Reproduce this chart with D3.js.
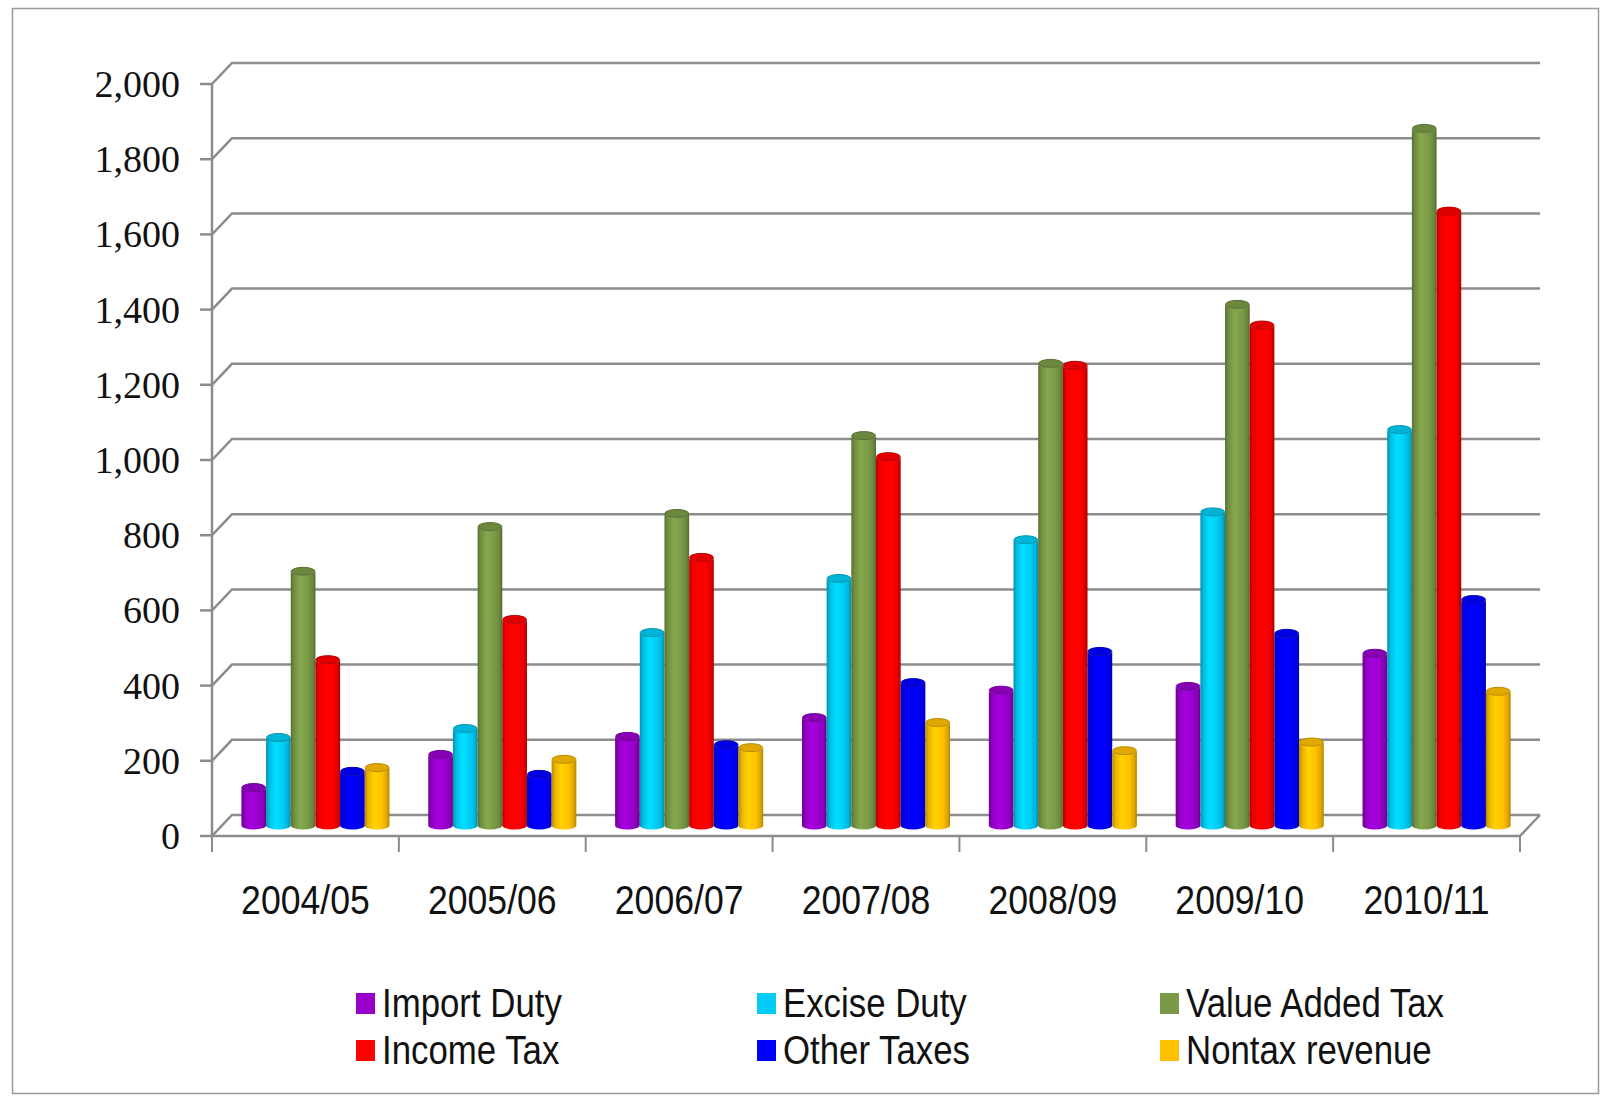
<!DOCTYPE html>
<html>
<head>
<meta charset="utf-8">
<script src="https://cdn.jsdelivr.net/npm/d3@7"></script>
<style>
	body { margin: 0; background: #ffffff; }
	svg { display: block; }
</style>
</head>
<body>
<svg id="chart" width="1610" height="1098"></svg>
<script>

var years = ["2004/05", "2005/06", "2006/07", "2007/08", "2008/09", "2009/10", "2010/11"];

var seriesNames = ["Import Duty", "Excise Duty", "Value Added Tax", "Income Tax", "Other Taxes", "Nontax revenue"];
var seriesColors = ["#9900cc", "#00ccf5", "#7a9a46", "#ff0000", "#0000ff", "#ffc000"];

var importDuty = [101, 189, 237, 287, 360, 370, 458];
var exciseDuty = [234, 258, 513, 657, 760, 834, 1053];
var valueAddedTax = [676, 795, 830, 1037, 1229, 1386, 1854];
var incomeTax = [441, 548, 713, 981, 1224, 1331, 1634];
var otherTaxes = [144, 136, 215, 380, 463, 511, 601];
var nontaxRevenue = [154, 176, 207, 274, 199, 222, 357];

var yTicks = [0, 200, 400, 600, 800, 1000, 1200, 1400, 1600, 1800, 2000];

var seriesValues = [importDuty, exciseDuty, valueAddedTax, incomeTax, otherTaxes, nontaxRevenue];

function renderCylinders(element) {

	var svg = d3.select(element);

	var plotLeft = 212;
	var plotRight = 1520;
	var depthX = 20; //how far the back wall sits from the front axis
	var depthY = -21;
	var groupPad = 19.4;
	var capRy = 4;
	var lineColor = "#8c8c8c";
	var sansFont = "'Liberation Sans Narrow', 'Liberation Sans', Arial, sans-serif";

	var yFront = d3.scaleLinear()
		.domain([0, 2000])
		.range([836, 84]);

	var x0 = d3.scaleBand()
		.domain(years)
		.range([plotLeft, plotRight]);

	var x1 = d3.scaleBand()
		.domain(seriesNames)
		.range([groupPad, x0.bandwidth() - groupPad]);

	var colorScale = d3.scaleOrdinal()
		.domain(seriesNames)
		.range(seriesColors);

	//squeeze sans text so it reads like the narrow office font
	function condense(factor) {
		return function() {
			var len = this.getComputedTextLength();
			d3.select(this)
				.attr("textLength", len * factor)
				.attr("lengthAdjust", "spacingAndGlyphs");
		};
	}

	function addFrame() {

		svg.append("rect")
			.attr("x", 12.5)
			.attr("y", 8.5)
			.attr("width", 1586)
			.attr("height", 1085)
			.attr("fill", "#ffffff")
			.attr("stroke", "#9a9a9a")
			.attr("stroke-width", 1.5);

	}

	function addWalls() {

		//gridlines run along the side wall then the back wall
		svg.append("g")
			.selectAll("path")
			.data(yTicks)
			.enter()
			.append("path")
			.attr("d", v => "M" + plotLeft + "," + yFront(v)
				+ "L" + (plotLeft + depthX) + "," + (yFront(v) + depthY)
				+ "L" + (plotRight + depthX) + "," + (yFront(v) + depthY))
			.attr("fill", "none")
			.attr("stroke", lineColor)
			.attr("stroke-width", 2.5);

		//floor front edge and right side
		svg.append("path")
			.attr("d", "M" + plotLeft + "," + yFront(0)
				+ "L" + plotRight + "," + yFront(0)
				+ "L" + (plotRight + depthX) + "," + (yFront(0) + depthY))
			.attr("fill", "none")
			.attr("stroke", lineColor)
			.attr("stroke-width", 2.5);

	}

	function addAxes() {

		svg.append("line")
			.attr("x1", plotLeft)
			.attr("y1", yFront(0))
			.attr("x2", plotLeft)
			.attr("y2", yFront(2000))
			.attr("stroke", lineColor)
			.attr("stroke-width", 2.5);

		var yAxis = svg.append("g");

		yAxis.selectAll("line")
			.data(yTicks)
			.enter()
			.append("line")
			.attr("x1", plotLeft - 12)
			.attr("x2", plotLeft)
			.attr("y1", v => yFront(v))
			.attr("y2", v => yFront(v))
			.attr("stroke", lineColor)
			.attr("stroke-width", 2.5);

		yAxis.selectAll("text")
			.data(yTicks)
			.enter()
			.append("text")
			.attr("x", 180)
			.attr("y", v => yFront(v))
			.attr("text-anchor", "end")
			.attr("dominant-baseline", "central")
			.attr("font-family", "'Liberation Serif', 'DejaVu Serif', serif")
			.attr("font-size", "38px")
			.attr("fill", "#111111")
			.text(d3.format(","));

		var boundaries = years.map(d => x0(d)).concat([plotRight]);

		svg.append("g")
			.selectAll("line")
			.data(boundaries)
			.enter()
			.append("line")
			.attr("x1", d => d)
			.attr("x2", d => d)
			.attr("y1", yFront(0))
			.attr("y2", yFront(0) + 16)
			.attr("stroke", lineColor)
			.attr("stroke-width", 2);

		svg.append("g")
			.selectAll("text")
			.data(years)
			.enter()
			.append("text")
			.attr("x", d => x0(d) + x0.bandwidth() / 2)
			.attr("y", 900)
			.attr("text-anchor", "middle")
			.attr("dominant-baseline", "central")
			.attr("font-family", sansFont)
			.attr("font-size", "40px")
			.attr("fill", "#111111")
			.text(d => d)
			.each(condense(0.89));

	}

	function addCylinders() {

		var defs = svg.append("defs");

		//horizontal shading so the bars read as cylinders
		seriesColors.forEach((c, i) => {

			var base = d3.color(c);
			var grad = defs.append("linearGradient")
				.attr("id", "cyl" + i)
				.attr("x1", 0).attr("x2", 1)
				.attr("y1", 0).attr("y2", 0);

			grad.append("stop").attr("offset", "0%").attr("stop-color", base.darker(0.9));
			grad.append("stop").attr("offset", "14%").attr("stop-color", base.darker(0.2));
			grad.append("stop").attr("offset", "38%").attr("stop-color", base.brighter(0.25));
			grad.append("stop").attr("offset", "70%").attr("stop-color", base);
			grad.append("stop").attr("offset", "90%").attr("stop-color", base.darker(0.4));
			grad.append("stop").attr("offset", "100%").attr("stop-color", base.darker(1.1));

		});

		//flatten to one record per cylinder
		var bars = [];
		years.forEach((year, j) => {
			seriesNames.forEach((name, i) => {
				bars.push({ year: year, series: name, index: i, value: seriesValues[i][j] });
			});
		});

		var w = x1.bandwidth();
		var rx = w / 2;

		var g = svg.append("g")
			.selectAll("g")
			.data(bars)
			.enter()
			.append("g");

		g.append("path")
			.attr("d", d => {
				var x = x0(d.year) + x1(d.series) + depthX / 2;
				var yb = yFront(0) + depthY / 2;
				var yt = yFront(d.value) + depthY / 2;
				return "M" + x + "," + yt
					+ "L" + x + "," + yb
					+ "A" + rx + "," + capRy + " 0 0 0 " + (x + w) + "," + yb
					+ "L" + (x + w) + "," + yt
					+ "A" + rx + "," + capRy + " 0 0 1 " + x + "," + yt + "Z";
			})
			.attr("fill", d => "url(#cyl" + d.index + ")");

		g.append("ellipse")
			.attr("cx", d => x0(d.year) + x1(d.series) + depthX / 2 + rx)
			.attr("cy", d => yFront(d.value) + depthY / 2)
			.attr("rx", rx - 0.5)
			.attr("ry", capRy)
			.attr("fill", d => d3.color(colorScale(d.series)).darker(0.35))
			.attr("stroke", d => d3.color(colorScale(d.series)).darker(0.9))
			.attr("stroke-width", 1);

	}

	function addLegend() {

		var legendX = [356, 757, 1160];
		var legendY = [1003, 1050];

		var items = svg.append("g")
			.selectAll("g")
			.data(seriesNames)
			.enter()
			.append("g")
			.attr("transform", (d, i) => "translate(" + legendX[i % 3] + "," + legendY[Math.floor(i / 3)] + ")");

		items.append("rect")
			.attr("x", 0)
			.attr("y", -10)
			.attr("width", 19)
			.attr("height", 21)
			.attr("fill", d => colorScale(d));

		items.append("text")
			.attr("x", 26)
			.attr("y", 0)
			.attr("dominant-baseline", "central")
			.attr("font-family", sansFont)
			.attr("font-size", "40px")
			.attr("fill", "#111111")
			.text(d => d)
			.each(condense(0.87));

	}

	addFrame();
	addWalls();
	addAxes();
	addCylinders();
	addLegend();

}

renderCylinders("#chart");

</script>
</body>
</html>
